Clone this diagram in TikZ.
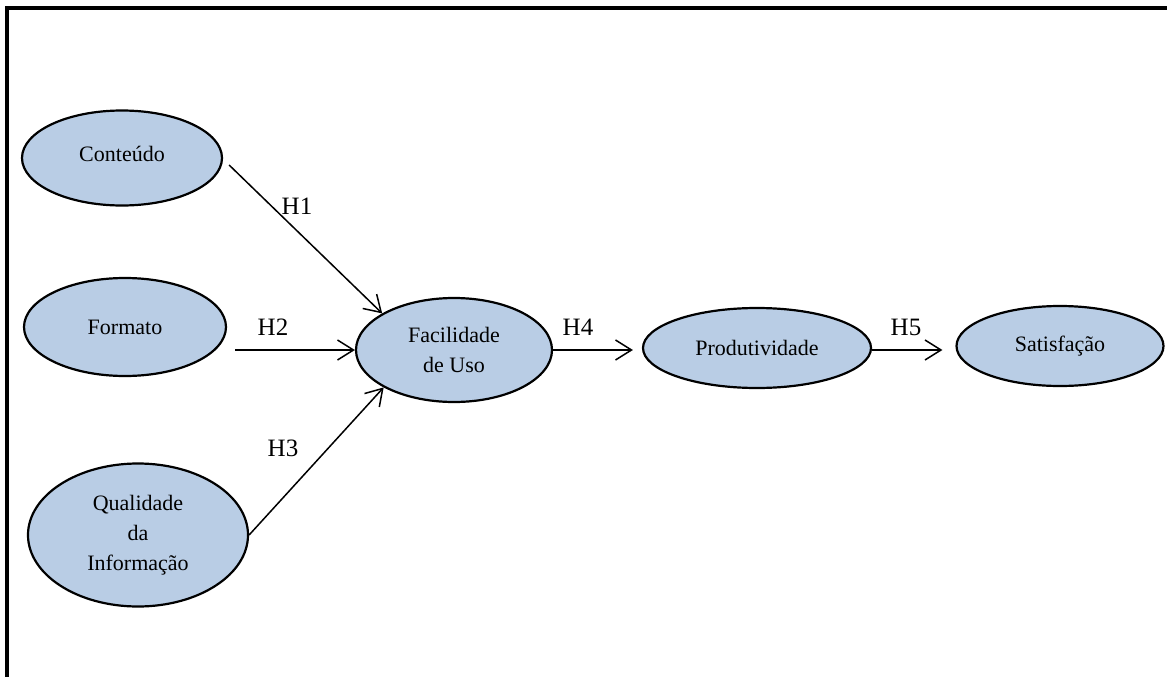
\documentclass[tikz,border=0pt]{standalone}
\usepackage{fontspec}
\setmainfont{Liberation Serif}
\usetikzlibrary{shapes.geometric,arrows.meta}
\definecolor{ellfill}{RGB}{185,205,229}
\begin{document}
\begin{tikzpicture}[x=1pt,y=-1pt,
  construct/.style={ellipse,draw=black,line width=2.2pt,fill=ellfill,inner sep=0pt,
    align=center,font=\fontsize{22}{30}\selectfont},
  hyp/.style={line width=1.5pt,-{Straight Barb[length=16pt,width=20pt,line width=1.5pt]}},
  hlabel/.style={inner sep=0pt,anchor=base,font=\fontsize{25}{28}\selectfont}]
\useasboundingbox (0,0) rectangle (1167,677);
% frame (top and left sides visible)
\draw[line width=3.4pt] (1167,8) -- (7,8) -- (7,677);
% constructs
\node[construct,minimum width=200pt,minimum height=95pt] (con) at (122,158) {\raisebox{8pt}{Conteúdo}};
\node[construct,minimum width=202pt,minimum height=98pt] (fmt) at (125,327) {Formato};
\node[construct,minimum width=220pt,minimum height=143pt] (qual) at (138,535) {Qualidade\\da\\Informação};
\node[construct,minimum width=196pt,minimum height=104pt] (fac) at (454,350) {Facilidade\\de Uso};
\node[construct,minimum width=228pt,minimum height=80pt] (prod) at (757,348) {Produtividade};
\node[construct,minimum width=207pt,minimum height=80pt] (sat) at (1060,346) {\raisebox{3pt}{Satisfação}};
% hypotheses
\draw[hyp] ([xshift=6pt,yshift=-7pt]con.east) -- (fac.153);
\draw[hyp] ([xshift=8pt,yshift=-23pt]fmt.east) -- (fac.west);
\draw[hyp] (qual.east) -- (fac.208);
\draw[hyp,shorten >=9pt] (fac.east) -- (fac.east -| prod.west);
\draw[hyp,shorten >=13pt] (fac.east -| prod.east) -- (fac.east -| sat.west);
% labels
\node[hlabel] (l1) at (297,214) {H1};
\node[hlabel] (l2) at (273,335) {H2};
\node[hlabel] (l3) at (283,456) {H3};
\node[hlabel] (l4) at (578,335) {H4};
\node[hlabel] (l5) at (906,335) {H5};
\end{tikzpicture}
\end{document}
